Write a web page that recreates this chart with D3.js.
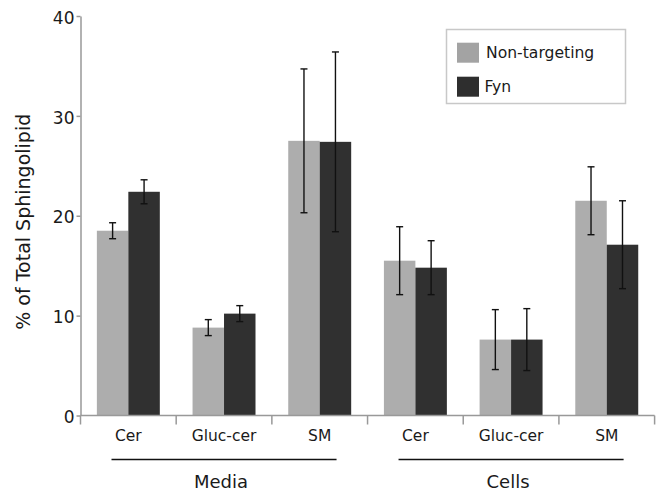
<!DOCTYPE html>
<html>
<head>
<meta charset="utf-8">
<script src="https://cdn.jsdelivr.net/npm/d3@7"></script>
<style>
  html, body { margin: 0; padding: 0; background: #fff; }
  svg { display: block; }
  text { font-family: "DejaVu Sans", sans-serif; fill: #1a1a1a; }
</style>
</head>
<body>
<svg id="chart" width="663" height="491"></svg>
<script>
// ---- data ----
const groups = ["Media", "Cells"];
const categories = ["Cer", "Gluc-cer", "SM", "Cer", "Gluc-cer", "SM"];
const categoryGroup = [0, 0, 0, 1, 1, 1];
const series = ["Non-targeting", "Fyn"];
const nonTargeting = [18.5, 8.8, 27.5, 15.5, 7.6, 21.5];
const nonTargetingErr = [0.8, 0.8, 7.2, 3.4, 3.0, 3.4];
const fyn = [22.4, 10.2, 27.4, 14.8, 7.6, 17.1];
const fynErr = [1.2, 0.8, 9.0, 2.7, 3.1, 4.4];
const yTicks = [0, 10, 20, 30, 40];
const yTitle = "% of Total Sphingolipid";

const colors = { "Non-targeting": "#adadad", "Fyn": "#303030" };
const legendColors = { "Non-targeting": "#a3a3a3", "Fyn": "#2e2e2e" };

const values = [nonTargeting, fyn];
const errors = [nonTargetingErr, fynErr];

const svg = d3.select("#chart");
const mLeft = 80.5, mRight = 654.6, mTop = 16, mBottom = 415.5;

const idx = categories.map((_, i) => i);
const x0 = d3.scaleBand().domain(idx).range([mLeft, mRight]).padding(0);
const x1 = d3.scaleBand().domain(series).range([0, x0.bandwidth()]).paddingInner(0).paddingOuter(0.52);
const y = d3.scaleLinear().domain([0, 40]).range([mBottom, mTop]);

// bars
const rows = [];
idx.forEach(i => series.forEach((s, k) => rows.push({ i, s, v: values[k][i], e: errors[k][i] })));

svg.append("g").selectAll("rect").data(rows).join("rect")
  .attr("x", d => x0(d.i) + x1(d.s))
  .attr("y", d => y(d.v))
  .attr("width", x1.bandwidth())
  .attr("height", d => y(0) - y(d.v))
  .attr("fill", d => colors[d.s]);

// error bars
const eg = svg.append("g").attr("stroke", "#111").attr("stroke-width", 1.4);
rows.forEach(d => {
  const cx = x0(d.i) + x1(d.s) + x1.bandwidth() / 2;
  eg.append("line").attr("x1", cx).attr("x2", cx).attr("y1", y(d.v + d.e)).attr("y2", y(d.v - d.e));
  eg.append("line").attr("x1", cx - 3.5).attr("x2", cx + 3.5).attr("y1", y(d.v + d.e)).attr("y2", y(d.v + d.e));
  eg.append("line").attr("x1", cx - 3.5).attr("x2", cx + 3.5).attr("y1", y(d.v - d.e)).attr("y2", y(d.v - d.e));
});

// y axis
const yAxis = svg.append("g").attr("transform", `translate(${mLeft},0)`)
  .call(d3.axisLeft(y).tickValues(yTicks).tickSize(4).tickSizeOuter(0).tickPadding(2));
yAxis.select(".domain").attr("stroke", "#999").attr("stroke-width", 1.5);
yAxis.selectAll(".tick line").attr("stroke", "#999").attr("stroke-width", 1.5);
yAxis.selectAll(".tick text").attr("font-size", 17).attr("dy", "0.42em")
  .attr("font-family", "DejaVu Sans").attr("fill", "#1a1a1a");

// x axis line
svg.append("line").attr("x1", mLeft).attr("x2", mRight).attr("y1", mBottom).attr("y2", mBottom)
  .attr("stroke", "#999").attr("stroke-width", 1.5);
// boundary ticks
const bounds = idx.map(i => x0(i)).concat([x0(idx[idx.length - 1]) + x0.bandwidth()]);
svg.append("g").selectAll("line").data(bounds).join("line")
  .attr("x1", d => d).attr("x2", d => d).attr("y1", mBottom).attr("y2", mBottom + 9)
  .attr("stroke", "#999").attr("stroke-width", 1.5);

// category labels via axis
const xAxis = svg.append("g").attr("transform", `translate(0,${mBottom})`)
  .call(d3.axisBottom(x0).tickSize(0).tickPadding(14).tickFormat(i => categories[i]));
xAxis.select(".domain").remove();
xAxis.selectAll(".tick text").attr("font-size", 15.5).attr("font-family", "DejaVu Sans").attr("fill", "#1a1a1a");

// group lines and labels
groups.forEach((g, gi) => {
  const members = idx.filter(i => categoryGroup[i] === gi);
  const gx0 = x0(members[0]);
  const gx1 = x0(members[members.length - 1]) + x0.bandwidth();
  const inset = 31;
  svg.append("line").attr("x1", gx0 + inset).attr("x2", gx1 - inset)
    .attr("y1", 459.5).attr("y2", 459.5).attr("stroke", "#111").attr("stroke-width", 1.6);
  svg.append("text").attr("x", (gx0 + gx1) / 2 - 3).attr("y", 487.5)
    .attr("text-anchor", "middle").attr("font-size", 18).text(g);
});

// y title
svg.append("text").attr("transform", `translate(30,${(mTop + mBottom) / 2 + 6}) rotate(-90)`)
  .attr("text-anchor", "middle").attr("font-size", 19).text(yTitle);

// legend
const lg = svg.append("g");
lg.append("rect").attr("x", 446.5).attr("y", 29.5).attr("width", 179).attr("height", 74)
  .attr("fill", "#fff").attr("stroke", "#c8c8c8").attr("stroke-width", 1.5);
series.forEach((s, k) => {
  const yy = 42.7 + k * 34;
  lg.append("rect").attr("x", 457).attr("y", yy).attr("width", 22).attr("height", 20).attr("fill", legendColors[s]);
  lg.append("text").attr("x", k === 0 ? 486 : 484.5).attr("y", yy + 15).attr("font-size", 15.6).text(s);
});
</script>
</body>
</html>
